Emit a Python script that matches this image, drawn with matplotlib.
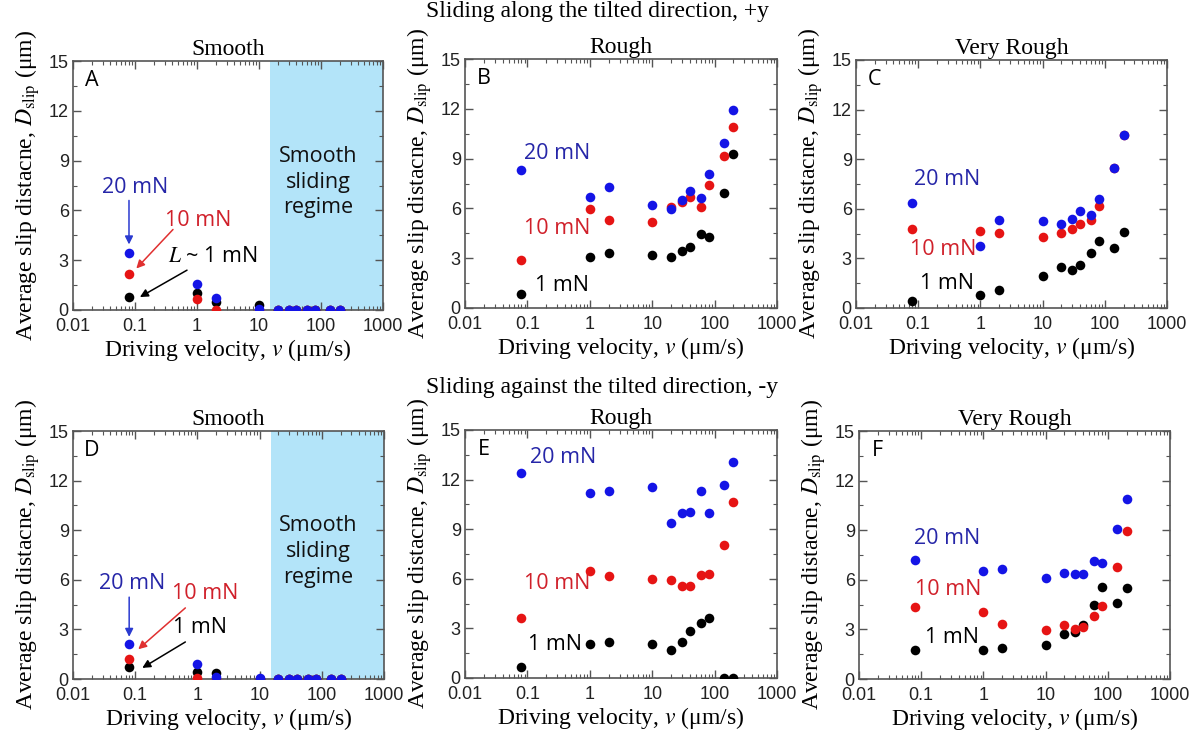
import numpy as np
import matplotlib.pyplot as plt
from matplotlib.ticker import LogLocator, MultipleLocator, NullFormatter, FixedLocator

plt.rcParams['mathtext.fontset'] = 'stix'

# driving velocities (um/s)
v = [0.08, 1, 2, 10, 20, 30, 40, 60, 80, 140, 200]

# slip distance (um) for loads of 1, 10, 20 mN
# +y direction
A_1 = [0.8, 1.0, 0.5, 0.28, 0, 0, 0, 0, 0, 0, 0]
A_10 = [2.17, 0.68, 0.0, 0.0, 0, 0, 0, 0, 0, 0, 0]
A_20 = [3.42, 1.55, 0.72, 0.05, 0, 0, 0, 0, 0, 0, 0]

B_1 = [0.85, 3.05, 3.3, 3.2, 3.05, 3.45, 3.7, 4.45, 4.3, 6.9, 9.25]
B_10 = [2.9, 5.95, 5.3, 5.2, 6.1, 6.4, 6.7, 6.1, 7.4, 9.15, 10.9]
B_20 = [8.3, 6.7, 7.3, 6.2, 5.95, 6.5, 7.05, 6.6, 8.1, 9.95, 11.95]

C_1 = [0.4, 0.76, 1.1, 1.95, 2.5, 2.3, 2.6, 3.35, 4.05, 3.65, 4.6]
C_10 = [4.76, 4.68, 4.52, 4.28, 4.52, 4.76, 5.1, 5.32, 6.18, 8.49, 10.44]
C_20 = [6.37, 3.78, 5.32, 5.28, 5.08, 5.38, 5.88, 5.6, 6.58, 8.49, 10.44]

# -y direction
D_1 = [0.71, 0.45, 0.35, 0.0, 0, 0, 0, 0, 0, 0, 0]
D_10 = [1.2, 0.05, 0.0, 0.0, 0, 0, 0, 0, 0, 0, 0]
D_20 = [2.1, 0.9, 0.1, 0.05, 0, 0, 0, 0, 0, 0, 0]

E_1 = [0.68, 2.07, 2.17, 2.07, 1.69, 2.17, 2.82, 3.32, 3.62, 0, 0]
E_10 = [3.6, 6.48, 6.14, 5.98, 5.9, 5.58, 5.58, 6.24, 6.28, 8.05, 10.65]
E_20 = [12.42, 11.17, 11.29, 11.54, 9.4, 10.0, 10.05, 11.29, 9.95, 11.66, 13.09]

F_1 = [1.75, 1.75, 1.85, 2.08, 2.72, 2.86, 3.27, 4.46, 5.54, 4.58, 5.5]
F_10 = [4.33, 4.03, 3.31, 2.96, 3.27, 3.04, 3.17, 3.81, 4.44, 6.75, 8.97]
F_20 = [7.2, 6.55, 6.63, 6.09, 6.43, 6.33, 6.33, 7.14, 7.0, 9.05, 10.9]

titles = ['Smooth', 'Rough', 'Very Rough']
letters = ['A', 'B', 'C', 'D', 'E', 'F']

BLUE = '#1414e6'
RED = '#e61414'
TXT_BLUE = '#2626a8'
TXT_RED = '#d0202a'
SHADE = '#b3e4f9'

serif = 'Liberation Serif'
sans = 'Open Sans'

fig = plt.figure(figsize=(12.04, 7.33), dpi=100)

W, H = 1204, 733
boxes = [(73, 61, 383, 310), (465, 59, 777, 308), (856, 60, 1167, 308),
         (73, 431, 384, 679), (465, 430, 777, 678), (859, 431, 1170, 679)]
data = [(A_1, A_10, A_20), (B_1, B_10, B_20), (C_1, C_10, C_20),
        (D_1, D_10, D_20), (E_1, E_10, E_20), (F_1, F_10, F_20)]

axes = []
for i, (x0, y0, x1, y1) in enumerate(boxes):
    ax = fig.add_axes([x0 / W, 1 - y1 / H, (x1 - x0) / W, (y1 - y0) / H])
    ax.set_xscale('log')
    ax.set_xlim(0.01, 1000)
    ax.set_ylim(0, 15)
    if i % 3 == 0:
        ax.axvspan(15, 1000, color=SHADE, zorder=0, lw=0)
    d1, d10, d20 = data[i]
    ax.scatter(v, d1, s=48, color='black', zorder=3, lw=0)
    ax.scatter(v, d10, s=48, color=RED, zorder=4, lw=0)
    ax.scatter(v, d20, s=48, color=BLUE, zorder=5, lw=0)

    ax.xaxis.set_major_locator(FixedLocator([0.01, 0.1, 1, 10, 100, 1000]))
    ax.set_xticklabels(['0.01', '0.1', '1', '10', '100', '1000'])
    ax.xaxis.set_minor_locator(LogLocator(base=10, subs=np.arange(2, 10), numticks=20))
    ax.xaxis.set_minor_formatter(NullFormatter())
    ax.yaxis.set_major_locator(MultipleLocator(3))
    ax.yaxis.set_minor_locator(MultipleLocator(1.5))
    ax.tick_params(which='both', direction='in', top=True, right=True,
                   color='#555555', labelsize=13)
    ax.tick_params(axis='x', pad=6)
    ax.tick_params(axis='y', pad=3)
    ax.tick_params(which='major', length=6, width=1)
    ax.tick_params(which='minor', length=3, width=0.8)
    for lab in ax.get_xticklabels() + ax.get_yticklabels():
        lab.set_family('Liberation Sans')
        lab.set_color('#222222')
    for sp in ax.spines.values():
        sp.set_color('#555555')
        sp.set_linewidth(1.2)

    ax.set_xlabel(r'Driving velocity, $v$ (μm/s)', family=serif, fontsize=17, labelpad=1)
    ax.set_ylabel(r'Average slip distacne, $D_{\mathrm{slip}}$ (μm)', family=serif,
                  fontsize=17, labelpad=5)
    ax.set_title(titles[i % 3], family=serif, fontsize=17, pad=4)
    ax.text(0.06, 0.92, letters[i], transform=ax.transAxes, family=sans,
            fontsize=15.5, ha='center', va='center')
    axes.append(ax)

txt = dict(family=sans, fontsize=15.5, ha='center', va='center')
arrow = dict(arrowstyle='-|>', lw=1.1, mutation_scale=12, shrinkA=0, shrinkB=0)

# smooth panels: labels with arrows, and the smooth sliding region
axA = axes[0]
axA.text(0.1, 7.35, '20 mN', color=TXT_BLUE, **txt)
axA.annotate('', xy=(0.08, 3.95), xytext=(0.08, 6.6), arrowprops=dict(color='#2a3ad0', **arrow))
axA.text(1.05, 5.4, '10 mN', color=TXT_RED, **txt)
axA.annotate('', xy=(0.105, 2.5), xytext=(0.41, 4.85), arrowprops=dict(color='#e03030', **arrow))
axA.text(1.8, 3.2, r'$L$ ~ 1 mN', color='black', **txt)
axA.annotate('', xy=(0.12, 0.78), xytext=(0.69, 2.4), arrowprops=dict(color='black', **arrow))
axA.text(89, 7.7, 'Smooth\nsliding\nregime', color='#111111', linespacing=1.3, **txt)

axD = axes[3]
axD.text(0.089, 5.8, '20 mN', color=TXT_BLUE, **txt)
axD.annotate('', xy=(0.08, 2.55), xytext=(0.08, 4.95), arrowprops=dict(color='#2a3ad0', **arrow))
axD.text(1.35, 5.2, '10 mN', color=TXT_RED, **txt)
axD.annotate('', xy=(0.112, 1.8), xytext=(0.64, 4.3), arrowprops=dict(color='#e03030', **arrow))
axD.text(1.12, 3.1, '1 mN', color='black', **txt)
axD.annotate('', xy=(0.13, 0.67), xytext=(0.64, 2.24), arrowprops=dict(color='black', **arrow))
axD.text(89, 7.7, 'Smooth\nsliding\nregime', color='#111111', linespacing=1.3, **txt)

# load labels in the rough panels
label_pos = {
    1: [(0.295, 9.28), (0.295, 4.8), (0.355, 1.33)],
    2: [(0.29, 7.8), (0.25, 3.55), (0.29, 1.49)],
    4: [(0.376, 13.35), (0.295, 5.73), (0.278, 2.0)],
    5: [(0.263, 8.51), (0.27, 5.43), (0.31, 2.52)],
}
for i, pos in label_pos.items():
    ax = axes[i]
    ax.text(*pos[0], '20 mN', color=TXT_BLUE, **txt)
    ax.text(*pos[1], '10 mN', color=TXT_RED, **txt)
    ax.text(*pos[2], '1 mN', color='black', **txt)

fig.text(598 / W, 1 - 12 / H, 'Sliding along the tilted direction, +y',
         family=serif, fontsize=17, ha='center', va='center')
fig.text(602 / W, 1 - 388 / H, 'Sliding against the tilted direction, -y',
         family=serif, fontsize=17, ha='center', va='center')

fig.savefig('out.png', dpi=100)
